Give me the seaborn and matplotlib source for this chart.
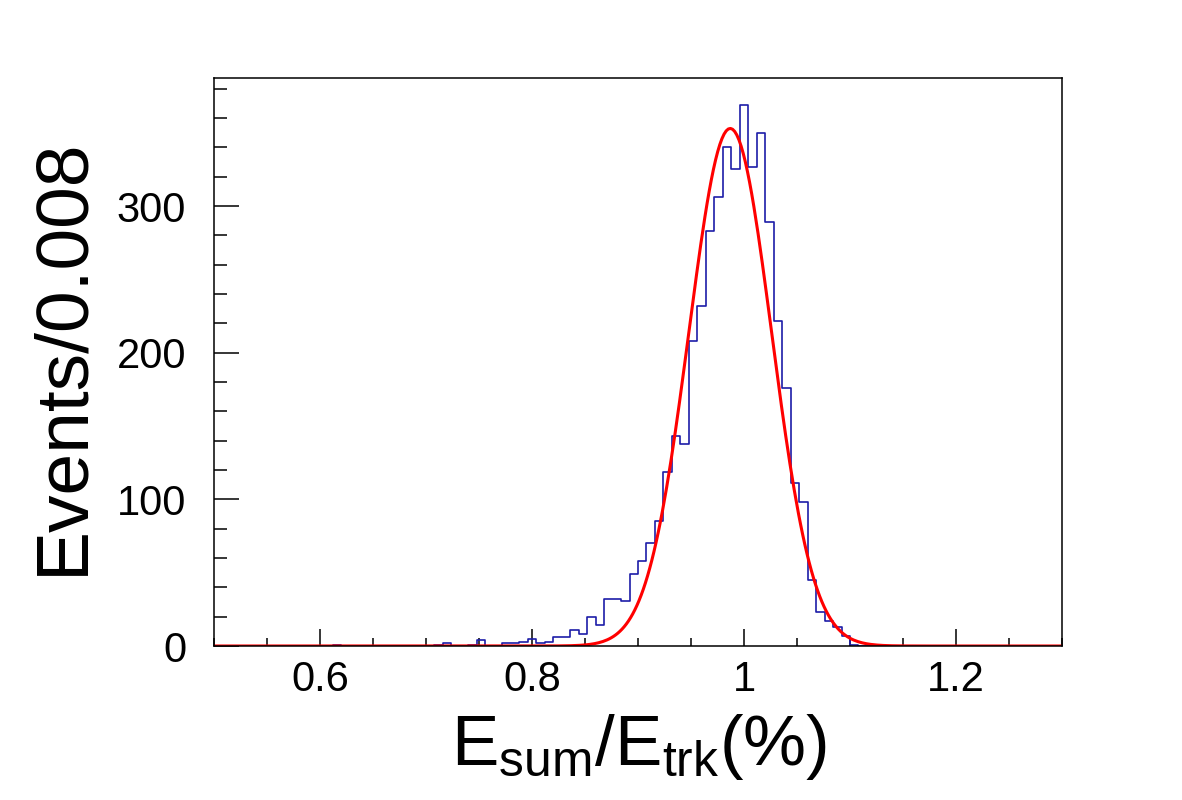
import numpy as np
import pandas as pd
import matplotlib
matplotlib.use("Agg")
import matplotlib.pyplot as plt
import matplotlib.ticker as mticker
import seaborn as sns

# istogramma E_sum/E_trk, 100 bin da 0.008 tra 0.5 e 1.3
x_min = 0.5
x_max = 1.3
bin_width = 0.008
counts = [
    0, 0, 0, 0, 0, 0, 0, 0, 0, 0,
    0, 0, 0, 0, 1, 0, 0, 0, 0, 0,
    0, 0, 0, 0, 0, 0, 1, 2, 0, 0,
    1, 4, 0, 0, 2, 2, 3, 5, 2, 3,
    6, 6, 11, 8, 20, 14, 32, 32, 31, 49,
    58, 70, 85, 119, 143, 138, 208, 232, 283, 306,
    340, 325, 369, 327, 350, 289, 222, 176, 111, 98,
    45, 23, 17, 13, 7, 1, 0, 0, 0, 0,
    0, 0, 0, 0, 0, 0, 0, 0, 0, 0,
    0, 0, 0, 0, 0, 0, 0, 0, 0, 0,
]

# parametri del fit gaussiano (curva rossa)
fit_amp = 353.0
fit_mean = 0.987
fit_sigma = 0.039

centers = x_min + bin_width * (np.arange(len(counts)) + 0.5)
hist_df = pd.DataFrame({'center': centers, 'count': counts})
fit_x = np.linspace(x_min, x_max, 400)
fit_y = fit_amp * np.exp(-0.5 * ((fit_x - fit_mean) / fit_sigma) ** 2)

sns.set_style("ticks")
plt.rcParams['font.family'] = ['Liberation Sans', 'DejaVu Sans']
plt.rcParams['mathtext.fontset'] = 'custom'
plt.rcParams['mathtext.rm'] = 'Liberation Sans'
plt.rcParams['mathtext.it'] = 'Liberation Sans'
plt.rcParams['text.color'] = 'black'
plt.rcParams['xtick.color'] = 'black'
plt.rcParams['ytick.color'] = 'black'
plt.rcParams['xtick.labelcolor'] = 'black'
plt.rcParams['ytick.labelcolor'] = 'black'

fig = plt.figure(figsize=(11.82, 8), dpi=100)
ax = fig.add_axes([214 / 1182, 1 - 646 / 800, (1062 - 214) / 1182, (646 - 78) / 800])

sns.histplot(data=hist_df, x='center', weights='count', binwidth=bin_width,
             binrange=(x_min, x_max), element='step', fill=False,
             color='#1c1ca8', linewidth=1.2, ax=ax)
sns.lineplot(x=fit_x, y=fit_y, color='red', linewidth=2.2, ax=ax)

ax.set_xlim(x_min, x_max)
ax.set_ylim(0, 387.4)

for s in ax.spines.values():
    s.set_visible(True)
    s.set_linewidth(1.1)
    s.set_color('black')

ax.xaxis.set_major_locator(mticker.MultipleLocator(0.2))
ax.xaxis.set_minor_locator(mticker.MultipleLocator(0.05))
ax.xaxis.set_major_formatter(mticker.FuncFormatter(lambda v, p: '%g' % round(v, 3)))
ax.yaxis.set_major_locator(mticker.MultipleLocator(100))
ax.yaxis.set_minor_locator(mticker.MultipleLocator(20))

ax.tick_params(axis='x', which='major', direction='in', length=12, width=1.1,
               labelsize=30, pad=10, top=False, colors='black')
ax.tick_params(axis='x', which='minor', direction='in', length=6, width=1.1, top=False)
ax.tick_params(axis='y', which='major', direction='in', length=18, width=1.1,
               labelsize=30, pad=20, right=False, colors='black')
ax.tick_params(axis='y', which='minor', direction='in', length=9, width=1.1, right=False)

ax.set_xlabel('')
ax.set_ylabel('')
fig.text(639 / 1182, 1 - 765 / 800, r'$\mathregular{E_{sum}/E_{trk}(\%)}$',
         fontsize=51, ha='center', va='baseline', color='black')
fig.text(63 / 1182, 1 - 356 / 800, 'Events/0.008', fontsize=54, rotation=90,
         ha='center', va='center', color='black')

fig.savefig('out.png', dpi=100)
